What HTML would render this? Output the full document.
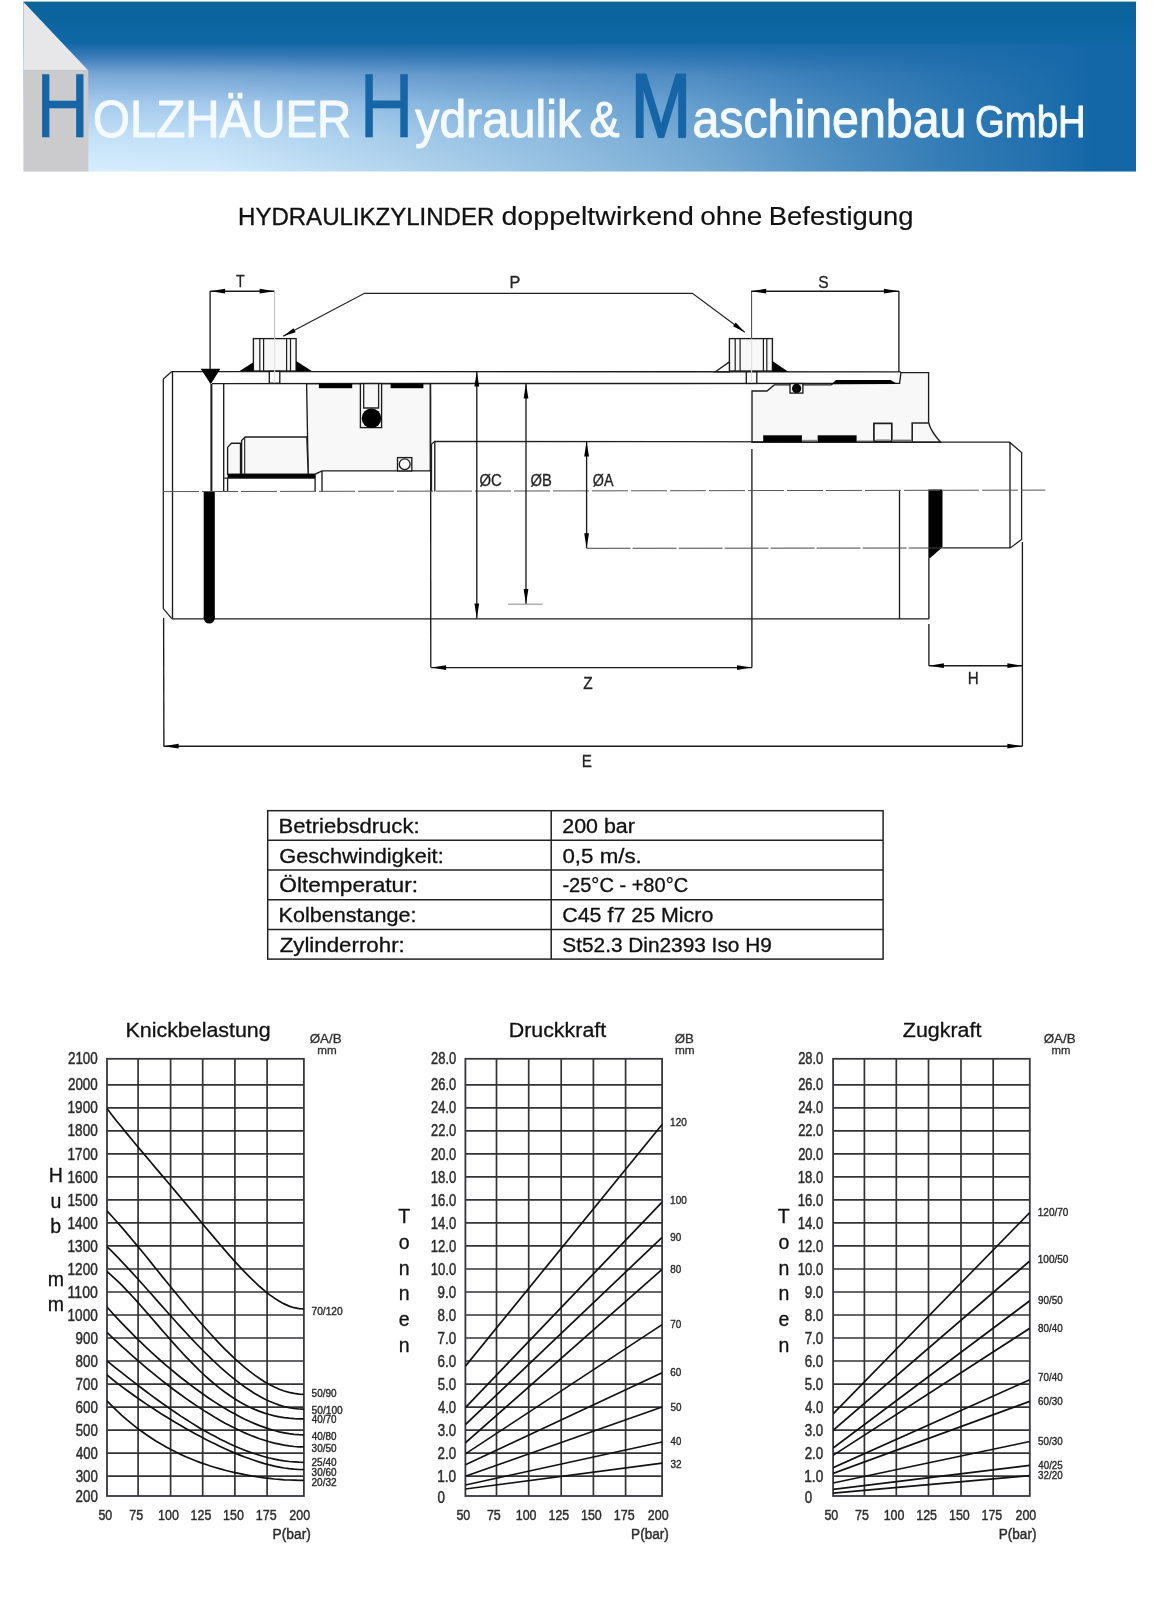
<!DOCTYPE html>
<html><head><meta charset="utf-8"><title>Hydraulikzylinder</title>
<style>
html,body{margin:0;padding:0;background:#fff;}
body{width:1172px;height:1600px;overflow:hidden;font-family:"Liberation Sans",sans-serif;}
svg{display:block;font-family:"Liberation Sans",sans-serif;}
</style></head><body>
<svg width="1172" height="1600" viewBox="0 0 1172 1600">
<rect width="1172" height="1600" fill="#fff"/>
<g opacity="0.999">
<defs>
<linearGradient id="gv" x1="0" y1="0" x2="0" y2="1">
<stop offset="0" stop-color="#0a639c"/>
<stop offset="0.24" stop-color="#0f67a4"/>
<stop offset="0.32" stop-color="#3a7bb8"/>
<stop offset="0.43" stop-color="#79a7d6"/>
<stop offset="0.60" stop-color="#a6cbed"/>
<stop offset="0.80" stop-color="#c4e1f8"/>
<stop offset="1" stop-color="#d6edfd"/>
</linearGradient>
<linearGradient id="gh" x1="0" y1="0" x2="1" y2="0">
<stop offset="0" stop-color="#1f6dac" stop-opacity="0"/>
<stop offset="0.12" stop-color="#1f6dac" stop-opacity="0.02"/>
<stop offset="0.28" stop-color="#1f6dac" stop-opacity="0.17"/>
<stop offset="0.44" stop-color="#1f6dac" stop-opacity="0.33"/>
<stop offset="0.585" stop-color="#1f6dac" stop-opacity="0.50"/>
<stop offset="0.69" stop-color="#1d6cab" stop-opacity="0.68"/>
<stop offset="0.82" stop-color="#1b6baa" stop-opacity="0.86"/>
<stop offset="0.93" stop-color="#1668a8" stop-opacity="0.96"/>
<stop offset="0.957" stop-color="#1467a7" stop-opacity="1"/>
<stop offset="1" stop-color="#1467a7" stop-opacity="1"/>
</linearGradient>
<filter id="soft" x="-5%" y="-5%" width="110%" height="110%"><feGaussianBlur stdDeviation="0.6"/></filter>
</defs>
<rect x="23.5" y="2" width="1112.5" height="169.5" fill="url(#gv)"/>
<rect x="88" y="44" width="1048" height="127.5" fill="url(#gh)"/>
<rect x="23.5" y="1.5" width="1112.5" height="2" fill="#0a647f" opacity="0.8"/>
<polygon points="23.5,2 88.3,70.4 23.5,70.4" fill="#e7e7e9" stroke="none" stroke-width="1.3" />
<rect x="23.5" y="70.4" width="64.8" height="101.1" fill="#cbcacc"/>
<g filter="url(#soft)" stroke-linejoin="round">
<text transform="translate(36.14,137.2) scale(0.8135,1)" font-size="90" fill="#1465a6" stroke="#1465a6" stroke-width="0.5">H</text>
<text transform="translate(93.07,137.2) scale(0.9300,1)" font-size="51" fill="#f4faff" stroke="#f4faff" stroke-width="1.1">OLZHÄUER</text>
<text transform="translate(359.50,137.2) scale(0.8333,1)" font-size="90" fill="#1465a6" stroke="#1465a6" stroke-width="0.5">H</text>
<text transform="translate(415.36,137.2) scale(0.9246,1)" font-size="52" fill="#f4faff" stroke="#f4faff" stroke-width="1.1">ydraulik</text>
<text transform="translate(589.42,137.2) scale(0.9008,1)" font-size="50" fill="#f4faff" stroke="#f4faff" stroke-width="1.1">&amp;</text>
<text transform="translate(630.80,137.2) scale(0.8060,1)" font-size="90" fill="#1465a6" stroke="#1465a6" stroke-width="2.2">M</text>
<text transform="translate(692.47,137.2) scale(0.9289,1)" font-size="52" fill="#f4faff" stroke="#f4faff" stroke-width="1.1">aschinenbau</text>
<text transform="translate(975.09,137.2) scale(0.8510,1)" font-size="45" fill="#f4faff" stroke="#f4faff" stroke-width="1.0">GmbH</text>
</g>
<text transform="translate(238.08,225.3) scale(0.9769,1)" font-size="24.6" fill="#111" stroke="#111" stroke-width="0.35">HYDRAULIKZYLINDER</text>
<text transform="translate(501.45,225.3) scale(1.1270,1)" font-size="25.4" fill="#111" stroke="#111" stroke-width="0.15">doppeltwirkend</text>
<text transform="translate(700.18,225.3) scale(1.1020,1)" font-size="25.4" fill="#111" stroke="#111" stroke-width="0.15">ohne</text>
<text transform="translate(768.81,225.3) scale(1.0960,1)" font-size="25.0" fill="#111" stroke="#111" stroke-width="0.15">Befestigung</text>
<polygon points="306.6,383.6 430.3,383.6 430.3,470.9 322,470.9 315.1,474.2 308.2,474.2" fill="#f8f8f8" stroke="#1c1c1c" stroke-width="1.35" />
<polygon points="227.6,474.2 227.6,447.4 231.4,443.2 240.5,443.2 240.5,474.2" fill="#f8f8f8" stroke="#1c1c1c" stroke-width="1.35" />
<polygon points="241.6,474.2 241.6,440.6 245.2,437.0 306.8,437.0 308.2,474.2" fill="#f8f8f8" stroke="#1c1c1c" stroke-width="1.35" />
<line x1="244.7" y1="437.0" x2="244.7" y2="474.2" stroke="#1c1c1c" stroke-width="1.1" />
<path d="M752,442.2 L752,391 L767,391 L774.2,384.9 L831,384.9 L833,383.6 L899.6,383.4 L900.9,372.6 L928.6,372.6 L928.6,422.5 Q930.5,431 940.6,442.2 Z" fill="#f8f8f8" stroke="#1c1c1c" stroke-width="1.35" stroke-linejoin="miter"/>
<polyline points="171.8,371.4 163.3,379 163.3,608.6 171.8,618.7" fill="none" stroke="#222" stroke-width="1.3" stroke-linejoin="miter" />
<line x1="172.5" y1="371.4" x2="172.5" y2="618.7" stroke="#1c1c1c" stroke-width="1.35" />
<line x1="171.8" y1="371.6" x2="900.9" y2="371.8" stroke="#1c1c1c" stroke-width="1.35" />
<line x1="171.8" y1="618.8" x2="928.9" y2="618.8" stroke="#1c1c1c" stroke-width="1.35" />
<line x1="212" y1="383.6" x2="899.6" y2="383.4" stroke="#1c1c1c" stroke-width="1.35" />
<polygon points="200.7,368.8 220.4,368.8 210.7,384.3" fill="#000" stroke="none" stroke-width="1.3" />
<line x1="211.4" y1="384" x2="211.4" y2="491.6" stroke="#1c1c1c" stroke-width="2.0" />
<line x1="223.7" y1="383.6" x2="223.7" y2="491.6" stroke="#1c1c1c" stroke-width="1.35" />
<rect x="203.7" y="491.4" width="11.1" height="126.6" fill="#000"/>
<circle cx="209.25" cy="618" r="5.55" fill="#000"/>
<rect x="227.6" y="474.2" width="87.5" height="3.9" fill="#000"/>
<line x1="224.2" y1="478.1" x2="315.1" y2="478.1" stroke="#1c1c1c" stroke-width="1.35" />
<line x1="227.6" y1="478.1" x2="227.6" y2="491.6" stroke="#1c1c1c" stroke-width="1.35" />
<line x1="315.1" y1="474.2" x2="315.1" y2="491.6" stroke="#1c1c1c" stroke-width="1.35" />
<line x1="322" y1="470.9" x2="322" y2="491.6" stroke="#1c1c1c" stroke-width="1.35" />
<rect x="318.9" y="383.6" width="33.3" height="4.6" fill="#000"/>
<rect x="390.6" y="383.6" width="32.8" height="4.6" fill="#000"/>
<rect x="360.4" y="383.6" width="21.2" height="44.0" fill="#f8f8f8" stroke="#1c1c1c" stroke-width="1.35" />
<polyline points="363.7,383.6 363.7,408 378.6,408 378.6,383.6" fill="none" stroke="#222" stroke-width="1.3" stroke-linejoin="miter" />
<circle cx="371.5" cy="418.2" r="9.8" fill="#000"/>
<rect x="397.5" y="457.6" width="14.3" height="13.3" fill="#f8f8f8" stroke="#1c1c1c" stroke-width="1.35" />
<circle cx="404.7" cy="464.2" r="5.4" fill="#fff" stroke="#1c1c1c" stroke-width="1.35"/>
<polyline points="431.5,491.5 431.5,444.2 434.6,441.3 1009.6,442.2 1021.6,452.5 1021.6,539.5 1010.3,547.9 942.2,547.9" fill="none" stroke="#222" stroke-width="1.3" stroke-linejoin="miter" />
<line x1="434.8" y1="441.3" x2="434.8" y2="491.5" stroke="#1c1c1c" stroke-width="1.35" />
<line x1="1010" y1="442.2" x2="1010" y2="547.9" stroke="#1c1c1c" stroke-width="1.35" />
<line x1="430.6" y1="383.6" x2="430.8" y2="667.6" stroke="#1c1c1c" stroke-width="1.35" />
<rect x="253.4" y="338.6" width="42.7" height="32.4" fill="#f8f8f8" stroke="#1c1c1c" stroke-width="1.35" />
<line x1="259.8" y1="338.6" x2="259.8" y2="371.0" stroke="#1c1c1c" stroke-width="1.2" />
<line x1="263.6" y1="338.6" x2="263.6" y2="371.0" stroke="#1c1c1c" stroke-width="1.2" />
<line x1="286.6" y1="338.6" x2="286.6" y2="371.0" stroke="#1c1c1c" stroke-width="1.2" />
<line x1="290.5" y1="338.6" x2="290.5" y2="371.0" stroke="#1c1c1c" stroke-width="1.2" />
<polygon points="239.6,371 253.4,362.2 253.4,371" fill="#000" stroke="none" stroke-width="1.3" />
<polygon points="296.1,361 311.8,371 296.1,371" fill="#000" stroke="none" stroke-width="1.3" />
<rect x="269.3" y="371.4" width="10.5" height="11.8" fill="#fff" stroke="#1c1c1c" stroke-width="1.35" />
<rect x="729.4" y="338.6" width="43.0" height="32.4" fill="#f8f8f8" stroke="#1c1c1c" stroke-width="1.35" />
<line x1="735.2" y1="338.6" x2="735.2" y2="371.0" stroke="#1c1c1c" stroke-width="1.2" />
<line x1="740.1" y1="338.6" x2="740.1" y2="371.0" stroke="#1c1c1c" stroke-width="1.2" />
<line x1="763.4" y1="338.6" x2="763.4" y2="371.0" stroke="#1c1c1c" stroke-width="1.2" />
<line x1="766.8" y1="338.6" x2="766.8" y2="371.0" stroke="#1c1c1c" stroke-width="1.2" />
<polygon points="715.4,371.7 729.4,361.9 729.4,371.7" fill="#fff" stroke="#1c1c1c" stroke-width="1.35" />
<polygon points="772.4,361.1 788.3,371.7 772.4,371.7" fill="#000" stroke="none" stroke-width="1.3" />
<rect x="746.3" y="371.9" width="10.5" height="11.5" fill="#fff" stroke="#1c1c1c" stroke-width="1.35" />
<rect x="790" y="383.6" width="12.9" height="9.5" fill="#f8f8f8" stroke="#1c1c1c" stroke-width="1.35" />
<circle cx="796.6" cy="388.4" r="4.6" fill="#000"/>
<polygon points="831.8,383.9 836,379.9 890.7,379.9 897.1,383.9" fill="#000" stroke="none" stroke-width="1.3" />
<rect x="873.9" y="423.4" width="17.9" height="17.8" fill="#f8f8f8" stroke="#1c1c1c" stroke-width="1.7" />
<line x1="876" y1="440" x2="890" y2="440" stroke="#999" stroke-width="1.4" />
<polyline points="928.6,423 912.2,423 912.2,442.2" fill="none" stroke="#222" stroke-width="1.6" stroke-linejoin="miter" />
<rect x="763.2" y="435.3" width="38.7" height="6.6" fill="#000"/>
<rect x="817.7" y="435.3" width="38.9" height="6.6" fill="#000"/>
<line x1="801.9" y1="440.6" x2="817.7" y2="440.6" stroke="#888" stroke-width="1.6" />
<line x1="856.6" y1="441.2" x2="873.9" y2="441.2" stroke="#555" stroke-width="1.2" />
<line x1="891.8" y1="440.4" x2="912.2" y2="440.4" stroke="#777" stroke-width="1.6" />
<line x1="899.5" y1="490.2" x2="899.5" y2="618.9" stroke="#1c1c1c" stroke-width="1.35" />
<line x1="928.9" y1="559" x2="928.9" y2="619" stroke="#1c1c1c" stroke-width="1.35" />
<line x1="928.9" y1="624" x2="928.9" y2="665.7" stroke="#1c1c1c" stroke-width="1.35" />
<polygon points="928.4,489.6 942.5,489.6 942.5,547.2 928.4,559.4" fill="#000" stroke="none" stroke-width="1.3" />
<line x1="1022.4" y1="542" x2="1022.4" y2="746.3" stroke="#1c1c1c" stroke-width="1.35" />
<line x1="751.6" y1="291" x2="751.6" y2="338.6" stroke="#444" stroke-width="1.0" />
<line x1="751.6" y1="338.6" x2="751.6" y2="383" stroke="#ddd" stroke-width="1.0" />
<line x1="751.9" y1="449" x2="751.9" y2="667.6" stroke="#1c1c1c" stroke-width="1.35" />
<line x1="163" y1="491.6" x2="1045.5" y2="490.1" stroke="#555" stroke-width="1.0" stroke-dasharray="36 3"/>
<line x1="586.6" y1="548.3" x2="942" y2="548.0" stroke="#444" stroke-width="1.0" stroke-dasharray="44 2"/>
<line x1="210.1" y1="291.2" x2="274.6" y2="291.2" stroke="#1c1c1c" stroke-width="1.35" />
<polygon points="210.1,291.2 225.1,288.8 225.1,293.6" fill="#000" stroke="none" stroke-width="1.3" />
<polygon points="274.6,291.2 259.6,293.6 259.6,288.8" fill="#000" stroke="none" stroke-width="1.3" />
<line x1="210.1" y1="291" x2="210.1" y2="369" stroke="#1c1c1c" stroke-width="1.35" />
<line x1="274.6" y1="291" x2="274.6" y2="338" stroke="#bbb" stroke-width="1.0" />
<line x1="274.6" y1="338" x2="274.6" y2="383" stroke="#ddd" stroke-width="1.0" />
<polyline points="283.1,336.3 364.5,293.3 692.4,293.3 744.8,332.2" fill="none" stroke="#222" stroke-width="1.3" stroke-linejoin="miter" />
<polygon points="283.1,336.3 293.52,328.19 295.67,332.26" fill="#000" stroke="none" stroke-width="1.3" />
<polygon points="744.8,332.2 732.99,326.3 735.73,322.6" fill="#000" stroke="none" stroke-width="1.3" />
<line x1="751.2" y1="291.2" x2="898.9" y2="291.2" stroke="#1c1c1c" stroke-width="1.35" />
<polygon points="751.2,291.2 766.2,288.8 766.2,293.6" fill="#000" stroke="none" stroke-width="1.3" />
<polygon points="898.9,291.2 883.9,293.6 883.9,288.8" fill="#000" stroke="none" stroke-width="1.3" />
<line x1="898.9" y1="291" x2="898.9" y2="372" stroke="#1c1c1c" stroke-width="1.35" />
<line x1="476.8" y1="371.6" x2="476.8" y2="618.6" stroke="#1c1c1c" stroke-width="1.35" />
<polygon points="476.8,371.6 479.2,386.6 474.4,386.6" fill="#000" stroke="none" stroke-width="1.3" />
<polygon points="476.8,618.6 474.4,603.6 479.2,603.6" fill="#000" stroke="none" stroke-width="1.3" />
<line x1="526" y1="383.6" x2="526" y2="604" stroke="#1c1c1c" stroke-width="1.35" />
<polygon points="526,383.6 528.4,398.6 523.6,398.6" fill="#000" stroke="none" stroke-width="1.3" />
<polygon points="526,604 523.6,589.0 528.4,589.0" fill="#000" stroke="none" stroke-width="1.3" />
<line x1="508" y1="604.2" x2="542.6" y2="604.2" stroke="#888" stroke-width="1.0" />
<line x1="586.6" y1="441.4" x2="586.6" y2="548.2" stroke="#1c1c1c" stroke-width="1.35" />
<polygon points="586.6,441.4 589.0,456.4 584.2,456.4" fill="#000" stroke="none" stroke-width="1.3" />
<polygon points="586.6,548.2 584.2,533.2 589.0,533.2" fill="#000" stroke="none" stroke-width="1.3" />
<line x1="431.1" y1="667.6" x2="752" y2="667.6" stroke="#1c1c1c" stroke-width="1.35" />
<polygon points="431.1,667.6 446.1,665.2 446.1,670.0" fill="#000" stroke="none" stroke-width="1.3" />
<polygon points="752,667.6 737.0,670.0 737.0,665.2" fill="#000" stroke="none" stroke-width="1.3" />
<line x1="928.9" y1="665.7" x2="1022.4" y2="665.7" stroke="#1c1c1c" stroke-width="1.35" />
<polygon points="928.9,665.7 943.9,663.3 943.9,668.1" fill="#000" stroke="none" stroke-width="1.3" />
<polygon points="1022.4,665.7 1007.4,668.1 1007.4,663.3" fill="#000" stroke="none" stroke-width="1.3" />
<line x1="163.6" y1="746.2" x2="1022.4" y2="746.2" stroke="#1c1c1c" stroke-width="1.35" />
<polygon points="163.6,746.2 178.6,743.8 178.6,748.6" fill="#000" stroke="none" stroke-width="1.3" />
<polygon points="1022.4,746.2 1007.4,748.6 1007.4,743.8" fill="#000" stroke="none" stroke-width="1.3" />
<line x1="163.6" y1="618" x2="163.9" y2="746.3" stroke="#1c1c1c" stroke-width="1.35" />
<text transform="translate(236.02,287.4) scale(0.8409,1)" font-size="16.9" fill="#222" stroke="#222" stroke-width="0.3">T</text>
<text transform="translate(509.60,287.8) scale(0.9622,1)" font-size="16.9" fill="#222" stroke="#222" stroke-width="0.3">P</text>
<text transform="translate(818.30,287.8) scale(0.9159,1)" font-size="16.9" fill="#222" stroke="#222" stroke-width="0.3">S</text>
<text transform="translate(479.38,485.8) scale(0.9082,1)" font-size="16.4" fill="#222" stroke="#222" stroke-width="0.3">ØC</text>
<text transform="translate(530.59,485.8) scale(0.8967,1)" font-size="16.4" fill="#222" stroke="#222" stroke-width="0.3">ØB</text>
<text transform="translate(592.80,485.8) scale(0.8736,1)" font-size="16.4" fill="#222" stroke="#222" stroke-width="0.3">ØA</text>
<text transform="translate(583.24,688.7) scale(0.9145,1)" font-size="16.9" fill="#222" stroke="#222" stroke-width="0.3">Z</text>
<text transform="translate(967.79,683.7) scale(0.8981,1)" font-size="16.9" fill="#222" stroke="#222" stroke-width="0.3">H</text>
<text transform="translate(581.78,767.4) scale(0.9011,1)" font-size="16.9" fill="#222" stroke="#222" stroke-width="0.3">E</text>
<rect x="267.7" y="810.7" width="615.4" height="148.4" fill="none" stroke="#222" stroke-width="1.5" />
<line x1="267.7" y1="840.3" x2="883.1" y2="840.3" stroke="#222" stroke-width="1.5" />
<line x1="267.7" y1="870.1" x2="883.1" y2="870.1" stroke="#222" stroke-width="1.5" />
<line x1="267.7" y1="899.7" x2="883.1" y2="899.7" stroke="#222" stroke-width="1.5" />
<line x1="267.7" y1="929.5" x2="883.1" y2="929.5" stroke="#222" stroke-width="1.5" />
<line x1="551.2" y1="810.7" x2="551.2" y2="959.1" stroke="#222" stroke-width="1.5" />
<text transform="translate(278.53,832.9000000000001) scale(1.1387,1)" font-size="19.4" fill="#111" stroke="#111" stroke-width="0.3">Betriebsdruck:</text>
<text transform="translate(279.21,862.5) scale(1.1220,1)" font-size="19.4" fill="#111" stroke="#111" stroke-width="0.3">Geschwindigkeit:</text>
<text transform="translate(279.28,892.3000000000001) scale(1.1707,1)" font-size="19.4" fill="#111" stroke="#111" stroke-width="0.3">Öltemperatur:</text>
<text transform="translate(278.57,921.9000000000001) scale(1.1130,1)" font-size="19.4" fill="#111" stroke="#111" stroke-width="0.3">Kolbenstange:</text>
<text transform="translate(279.63,951.7) scale(1.1502,1)" font-size="19.4" fill="#111" stroke="#111" stroke-width="0.3">Zylinderrohr:</text>
<text transform="translate(562.23,832.9000000000001) scale(1.1053,1)" font-size="19.4" fill="#111" stroke="#111" stroke-width="0.3">200 bar</text>
<text transform="translate(562.41,862.5) scale(1.1513,1)" font-size="19.4" fill="#111" stroke="#111" stroke-width="0.3">0,5 m/s.</text>
<text transform="translate(562.40,892.3000000000001) scale(1.0334,1)" font-size="19.4" fill="#111" stroke="#111" stroke-width="0.3">-25°C - +80°C</text>
<text transform="translate(562.23,921.9000000000001) scale(1.1041,1)" font-size="19.4" fill="#111" stroke="#111" stroke-width="0.3">C45 f7 25 Micro</text>
<text transform="translate(562.36,951.7) scale(1.0738,1)" font-size="19.4" fill="#111" stroke="#111" stroke-width="0.3">St52.3 Din2393 Iso H9</text>
<line x1="107.0" y1="1084.8" x2="303.9" y2="1084.8" stroke="#333336" stroke-width="1.7" />
<line x1="107.0" y1="1107.8" x2="303.9" y2="1107.8" stroke="#333336" stroke-width="1.7" />
<line x1="107.0" y1="1130.8" x2="303.9" y2="1130.8" stroke="#333336" stroke-width="1.7" />
<line x1="107.0" y1="1153.9" x2="303.9" y2="1153.9" stroke="#333336" stroke-width="1.7" />
<line x1="107.0" y1="1176.9" x2="303.9" y2="1176.9" stroke="#333336" stroke-width="1.7" />
<line x1="107.0" y1="1199.9" x2="303.9" y2="1199.9" stroke="#333336" stroke-width="1.7" />
<line x1="107.0" y1="1222.9" x2="303.9" y2="1222.9" stroke="#333336" stroke-width="1.7" />
<line x1="107.0" y1="1245.9" x2="303.9" y2="1245.9" stroke="#333336" stroke-width="1.7" />
<line x1="107.0" y1="1269.0" x2="303.9" y2="1269.0" stroke="#333336" stroke-width="1.7" />
<line x1="107.0" y1="1292.0" x2="303.9" y2="1292.0" stroke="#333336" stroke-width="1.7" />
<line x1="107.0" y1="1315.0" x2="303.9" y2="1315.0" stroke="#333336" stroke-width="1.7" />
<line x1="107.0" y1="1338.0" x2="303.9" y2="1338.0" stroke="#333336" stroke-width="1.7" />
<line x1="107.0" y1="1361.0" x2="303.9" y2="1361.0" stroke="#333336" stroke-width="1.7" />
<line x1="107.0" y1="1384.1" x2="303.9" y2="1384.1" stroke="#333336" stroke-width="1.7" />
<line x1="107.0" y1="1407.1" x2="303.9" y2="1407.1" stroke="#333336" stroke-width="1.7" />
<line x1="107.0" y1="1430.1" x2="303.9" y2="1430.1" stroke="#333336" stroke-width="1.7" />
<line x1="107.0" y1="1453.1" x2="303.9" y2="1453.1" stroke="#333336" stroke-width="1.7" />
<line x1="107.0" y1="1476.1" x2="303.9" y2="1476.1" stroke="#333336" stroke-width="1.7" />
<line x1="138.1" y1="1058.8" x2="138.1" y2="1496.0" stroke="#333336" stroke-width="1.7" />
<line x1="170.6" y1="1058.8" x2="170.6" y2="1496.0" stroke="#333336" stroke-width="1.7" />
<line x1="202.7" y1="1058.8" x2="202.7" y2="1496.0" stroke="#333336" stroke-width="1.7" />
<line x1="234.9" y1="1058.8" x2="234.9" y2="1496.0" stroke="#333336" stroke-width="1.7" />
<line x1="267.1" y1="1058.8" x2="267.1" y2="1496.0" stroke="#333336" stroke-width="1.7" />
<rect x="107.0" y="1058.8" width="196.9" height="437.2" fill="none" stroke="#37373f" stroke-width="1.8" />
<clipPath id="cp107"><rect x="107.0" y="1058.8" width="196.89999999999998" height="437.20000000000005"/></clipPath>
<g clip-path="url(#cp107)">
<path d="M107.0,1108.4 L111.9,1114.9 L116.8,1121.2 L121.8,1127.3 L126.7,1133.4 L131.6,1139.3 L136.5,1145.3 L141.5,1151.1 L146.4,1156.9 L151.3,1162.7 L156.2,1168.6 L161.1,1174.4 L166.1,1180.2 L171.0,1186.0 L175.9,1191.9 L180.8,1197.7 L185.8,1203.6 L190.7,1209.5 L195.6,1215.4 L200.5,1221.3 L205.4,1227.2 L210.4,1233.1 L215.3,1238.9 L220.2,1244.7 L225.1,1250.4 L230.1,1256.1 L235.0,1261.6 L239.9,1266.9 L244.8,1272.2 L249.8,1277.2 L254.7,1281.9 L259.6,1286.5 L264.5,1290.7 L269.4,1294.6 L274.4,1298.1 L279.3,1301.2 L284.2,1303.9 L289.1,1306.1 L294.1,1307.7 L299.0,1308.7 L303.9,1309.0" fill="none" stroke="#111" stroke-width="1.7"/>
<path d="M107.0,1210.9 L111.9,1216.3 L116.8,1221.8 L121.8,1227.4 L126.7,1233.1 L131.6,1239.0 L136.5,1244.9 L141.5,1250.8 L146.4,1256.8 L151.3,1262.9 L156.2,1269.0 L161.1,1275.1 L166.1,1281.2 L171.0,1287.2 L175.9,1293.3 L180.8,1299.3 L185.8,1305.3 L190.7,1311.2 L195.6,1317.0 L200.5,1322.7 L205.4,1328.3 L210.4,1333.8 L215.3,1339.1 L220.2,1344.3 L225.1,1349.3 L230.1,1354.2 L235.0,1358.8 L239.9,1363.2 L244.8,1367.4 L249.8,1371.4 L254.7,1375.1 L259.6,1378.5 L264.5,1381.7 L269.4,1384.5 L274.4,1387.0 L279.3,1389.2 L284.2,1391.0 L289.1,1392.4 L294.1,1393.4 L299.0,1394.1 L303.9,1394.3" fill="none" stroke="#111" stroke-width="1.7"/>
<path d="M107.0,1246.6 L111.9,1251.4 L116.8,1256.4 L121.8,1261.6 L126.7,1266.8 L131.6,1272.1 L136.5,1277.5 L141.5,1283.0 L146.4,1288.5 L151.3,1294.0 L156.2,1299.6 L161.1,1305.1 L166.1,1310.7 L171.0,1316.2 L175.9,1321.7 L180.8,1327.1 L185.8,1332.5 L190.7,1337.8 L195.6,1343.0 L200.5,1348.0 L205.4,1353.0 L210.4,1357.8 L215.3,1362.5 L220.2,1367.1 L225.1,1371.4 L230.1,1375.6 L235.0,1379.6 L239.9,1383.4 L244.8,1387.0 L249.8,1390.3 L254.7,1393.4 L259.6,1396.3 L264.5,1398.9 L269.4,1401.2 L274.4,1403.3 L279.3,1405.1 L284.2,1406.5 L289.1,1407.7 L294.1,1408.5 L299.0,1409.0 L303.9,1409.2" fill="none" stroke="#111" stroke-width="1.7"/>
<path d="M107.0,1271.5 L111.9,1275.8 L116.8,1280.3 L121.8,1285.2 L126.7,1290.3 L131.6,1295.5 L136.5,1300.9 L141.5,1306.5 L146.4,1312.1 L151.3,1317.7 L156.2,1323.4 L161.1,1329.1 L166.1,1334.8 L171.0,1340.4 L175.9,1345.9 L180.8,1351.3 L185.8,1356.6 L190.7,1361.7 L195.6,1366.7 L200.5,1371.5 L205.4,1376.1 L210.4,1380.5 L215.3,1384.7 L220.2,1388.6 L225.1,1392.3 L230.1,1395.8 L235.0,1399.0 L239.9,1402.0 L244.8,1404.7 L249.8,1407.2 L254.7,1409.4 L259.6,1411.4 L264.5,1413.1 L269.4,1414.5 L274.4,1415.8 L279.3,1416.8 L284.2,1417.6 L289.1,1418.2 L294.1,1418.6 L299.0,1418.8 L303.9,1418.9" fill="none" stroke="#111" stroke-width="1.7"/>
<path d="M107.0,1307.0 L111.9,1312.5 L116.8,1317.9 L121.8,1323.1 L126.7,1328.2 L131.6,1333.2 L136.5,1338.1 L141.5,1342.9 L146.4,1347.6 L151.3,1352.2 L156.2,1356.6 L161.1,1361.0 L166.1,1365.3 L171.0,1369.4 L175.9,1373.5 L180.8,1377.5 L185.8,1381.3 L190.7,1385.1 L195.6,1388.8 L200.5,1392.3 L205.4,1395.8 L210.4,1399.2 L215.3,1402.4 L220.2,1405.5 L225.1,1408.5 L230.1,1411.4 L235.0,1414.1 L239.9,1416.7 L244.8,1419.2 L249.8,1421.5 L254.7,1423.6 L259.6,1425.6 L264.5,1427.4 L269.4,1429.1 L274.4,1430.5 L279.3,1431.8 L284.2,1432.8 L289.1,1433.7 L294.1,1434.3 L299.0,1434.7 L303.9,1434.8" fill="none" stroke="#111" stroke-width="1.7"/>
<path d="M107.0,1332.4 L111.9,1337.1 L116.8,1341.7 L121.8,1346.3 L126.7,1350.7 L131.6,1355.1 L136.5,1359.4 L141.5,1363.7 L146.4,1367.8 L151.3,1371.9 L156.2,1375.9 L161.1,1379.9 L166.1,1383.7 L171.0,1387.5 L175.9,1391.2 L180.8,1394.8 L185.8,1398.4 L190.7,1401.8 L195.6,1405.1 L200.5,1408.4 L205.4,1411.6 L210.4,1414.6 L215.3,1417.6 L220.2,1420.4 L225.1,1423.2 L230.1,1425.8 L235.0,1428.3 L239.9,1430.6 L244.8,1432.9 L249.8,1435.0 L254.7,1436.9 L259.6,1438.7 L264.5,1440.3 L269.4,1441.8 L274.4,1443.1 L279.3,1444.2 L284.2,1445.2 L289.1,1445.9 L294.1,1446.5 L299.0,1446.8 L303.9,1446.9" fill="none" stroke="#111" stroke-width="1.7"/>
<path d="M107.0,1360.9 L111.9,1364.9 L116.8,1368.8 L121.8,1372.7 L126.7,1376.6 L131.6,1380.4 L136.5,1384.2 L141.5,1388.0 L146.4,1391.7 L151.3,1395.4 L156.2,1399.0 L161.1,1402.5 L166.1,1406.0 L171.0,1409.4 L175.9,1412.8 L180.8,1416.1 L185.8,1419.3 L190.7,1422.4 L195.6,1425.4 L200.5,1428.4 L205.4,1431.2 L210.4,1434.0 L215.3,1436.6 L220.2,1439.2 L225.1,1441.6 L230.1,1444.0 L235.0,1446.2 L239.9,1448.3 L244.8,1450.2 L249.8,1452.1 L254.7,1453.8 L259.6,1455.3 L264.5,1456.7 L269.4,1458.0 L274.4,1459.1 L279.3,1460.1 L284.2,1460.9 L289.1,1461.5 L294.1,1461.9 L299.0,1462.2 L303.9,1462.3" fill="none" stroke="#111" stroke-width="1.7"/>
<path d="M107.0,1375.0 L111.9,1379.0 L116.8,1382.8 L121.8,1386.6 L126.7,1390.2 L131.6,1393.8 L136.5,1397.3 L141.5,1400.7 L146.4,1404.1 L151.3,1407.3 L156.2,1410.5 L161.1,1413.7 L166.1,1416.8 L171.0,1419.8 L175.9,1422.7 L180.8,1425.6 L185.8,1428.5 L190.7,1431.2 L195.6,1433.9 L200.5,1436.6 L205.4,1439.2 L210.4,1441.7 L215.3,1444.1 L220.2,1446.5 L225.1,1448.8 L230.1,1451.0 L235.0,1453.1 L239.9,1455.1 L244.8,1457.0 L249.8,1458.8 L254.7,1460.5 L259.6,1462.1 L264.5,1463.6 L269.4,1464.9 L274.4,1466.1 L279.3,1467.1 L284.2,1468.0 L289.1,1468.7 L294.1,1469.2 L299.0,1469.5 L303.9,1469.6" fill="none" stroke="#111" stroke-width="1.7"/>
<path d="M107.0,1400.9 L111.9,1405.9 L116.8,1410.7 L121.8,1415.3 L126.7,1419.6 L131.6,1423.7 L136.5,1427.6 L141.5,1431.3 L146.4,1434.7 L151.3,1438.0 L156.2,1441.2 L161.1,1444.1 L166.1,1446.9 L171.0,1449.6 L175.9,1452.1 L180.8,1454.4 L185.8,1456.7 L190.7,1458.7 L195.6,1460.7 L200.5,1462.6 L205.4,1464.3 L210.4,1466.0 L215.3,1467.5 L220.2,1468.9 L225.1,1470.3 L230.1,1471.5 L235.0,1472.7 L239.9,1473.7 L244.8,1474.7 L249.8,1475.6 L254.7,1476.4 L259.6,1477.2 L264.5,1477.9 L269.4,1478.4 L274.4,1479.0 L279.3,1479.4 L284.2,1479.8 L289.1,1480.0 L294.1,1480.2 L299.0,1480.4 L303.9,1480.4" fill="none" stroke="#111" stroke-width="1.7"/>
</g>
<text transform="translate(125.49,1037) scale(1.0396,1)" font-size="20.6" fill="#111" stroke="#111" stroke-width="0.3">Knickbelastung</text>
<text transform="translate(67.93,1064.3999999999999) scale(0.8597,1)" font-size="15.6" fill="#2c2c2c" stroke="#2c2c2c" stroke-width="0.45">2100</text>
<text transform="translate(67.93,1090.3999999999999) scale(0.8597,1)" font-size="15.6" fill="#2c2c2c" stroke="#2c2c2c" stroke-width="0.45">2000</text>
<text transform="translate(67.58,1113.3999999999999) scale(0.8699,1)" font-size="15.6" fill="#2c2c2c" stroke="#2c2c2c" stroke-width="0.45">1900</text>
<text transform="translate(67.58,1136.3999999999999) scale(0.8699,1)" font-size="15.6" fill="#2c2c2c" stroke="#2c2c2c" stroke-width="0.45">1800</text>
<text transform="translate(67.58,1159.5) scale(0.8699,1)" font-size="15.6" fill="#2c2c2c" stroke="#2c2c2c" stroke-width="0.45">1700</text>
<text transform="translate(67.58,1182.5) scale(0.8699,1)" font-size="15.6" fill="#2c2c2c" stroke="#2c2c2c" stroke-width="0.45">1600</text>
<text transform="translate(67.58,1205.5) scale(0.8699,1)" font-size="15.6" fill="#2c2c2c" stroke="#2c2c2c" stroke-width="0.45">1500</text>
<text transform="translate(67.58,1228.5) scale(0.8699,1)" font-size="15.6" fill="#2c2c2c" stroke="#2c2c2c" stroke-width="0.45">1400</text>
<text transform="translate(67.58,1251.5) scale(0.8699,1)" font-size="15.6" fill="#2c2c2c" stroke="#2c2c2c" stroke-width="0.45">1300</text>
<text transform="translate(67.58,1274.6) scale(0.8699,1)" font-size="15.6" fill="#2c2c2c" stroke="#2c2c2c" stroke-width="0.45">1200</text>
<text transform="translate(67.54,1297.6) scale(0.9018,1)" font-size="15.6" fill="#2c2c2c" stroke="#2c2c2c" stroke-width="0.45">1100</text>
<text transform="translate(67.58,1320.6) scale(0.8699,1)" font-size="15.6" fill="#2c2c2c" stroke="#2c2c2c" stroke-width="0.45">1000</text>
<text transform="translate(75.60,1343.6) scale(0.8534,1)" font-size="15.6" fill="#2c2c2c" stroke="#2c2c2c" stroke-width="0.45">900</text>
<text transform="translate(75.60,1366.6) scale(0.8534,1)" font-size="15.6" fill="#2c2c2c" stroke="#2c2c2c" stroke-width="0.45">800</text>
<text transform="translate(75.53,1389.6999999999998) scale(0.8561,1)" font-size="15.6" fill="#2c2c2c" stroke="#2c2c2c" stroke-width="0.45">700</text>
<text transform="translate(75.53,1412.6999999999998) scale(0.8561,1)" font-size="15.6" fill="#2c2c2c" stroke="#2c2c2c" stroke-width="0.45">600</text>
<text transform="translate(75.67,1435.6999999999998) scale(0.8507,1)" font-size="15.6" fill="#2c2c2c" stroke="#2c2c2c" stroke-width="0.45">500</text>
<text transform="translate(75.94,1458.6999999999998) scale(0.8401,1)" font-size="15.6" fill="#2c2c2c" stroke="#2c2c2c" stroke-width="0.45">400</text>
<text transform="translate(75.67,1481.6999999999998) scale(0.8507,1)" font-size="15.6" fill="#2c2c2c" stroke="#2c2c2c" stroke-width="0.45">300</text>
<text transform="translate(75.53,1501.6) scale(0.8561,1)" font-size="15.6" fill="#2c2c2c" stroke="#2c2c2c" stroke-width="0.45">200</text>
<text transform="translate(98.45,1520) scale(0.8200,1)" font-size="15.2" fill="#2c2c2c" stroke="#2c2c2c" stroke-width="0.45">50</text>
<text transform="translate(129.22,1520) scale(0.8200,1)" font-size="15.2" fill="#2c2c2c" stroke="#2c2c2c" stroke-width="0.45">75</text>
<text transform="translate(158.07,1520) scale(0.8200,1)" font-size="15.2" fill="#2c2c2c" stroke="#2c2c2c" stroke-width="0.45">100</text>
<text transform="translate(190.61,1520) scale(0.8200,1)" font-size="15.2" fill="#2c2c2c" stroke="#2c2c2c" stroke-width="0.45">125</text>
<text transform="translate(223.07,1520) scale(0.8200,1)" font-size="15.2" fill="#2c2c2c" stroke="#2c2c2c" stroke-width="0.45">150</text>
<text transform="translate(255.81,1520) scale(0.8200,1)" font-size="15.2" fill="#2c2c2c" stroke="#2c2c2c" stroke-width="0.45">175</text>
<text transform="translate(289.33,1520) scale(0.8200,1)" font-size="15.2" fill="#2c2c2c" stroke="#2c2c2c" stroke-width="0.45">200</text>
<text transform="translate(272.60,1539.4) scale(0.9063,1)" font-size="15.2" fill="#2c2c2c" stroke="#2c2c2c" stroke-width="0.45">P(bar)</text>
<text transform="translate(309.73,1043.4) scale(1.0953,1)" font-size="12.2" fill="#2c2c2c" stroke="#333" stroke-width="0.3">ØA/B</text>
<text transform="translate(317.24,1053.5) scale(1.0164,1)" font-size="11.5" fill="#2c2c2c" stroke="#333" stroke-width="0.3">mm</text>
<text transform="translate(311.49,1314.6000000000001) scale(0.8964,1)" font-size="11.4" fill="#2a2a2a" stroke="#2a2a2a" stroke-width="0.4">70/120</text>
<text transform="translate(311.60,1397.3) scale(0.8754,1)" font-size="11.4" fill="#2a2a2a" stroke="#2a2a2a" stroke-width="0.4">50/90</text>
<text transform="translate(311.59,1414.1000000000001) scale(0.8934,1)" font-size="11.4" fill="#2a2a2a" stroke="#2a2a2a" stroke-width="0.4">50/100</text>
<text transform="translate(311.80,1423.4) scale(0.8682,1)" font-size="11.4" fill="#2a2a2a" stroke="#2a2a2a" stroke-width="0.4">40/70</text>
<text transform="translate(311.80,1440.2) scale(0.8682,1)" font-size="11.4" fill="#2a2a2a" stroke="#2a2a2a" stroke-width="0.4">40/80</text>
<text transform="translate(311.60,1451.6000000000001) scale(0.8754,1)" font-size="11.4" fill="#2a2a2a" stroke="#2a2a2a" stroke-width="0.4">30/50</text>
<text transform="translate(311.50,1466.3) scale(0.8790,1)" font-size="11.4" fill="#2a2a2a" stroke="#2a2a2a" stroke-width="0.4">25/40</text>
<text transform="translate(311.60,1475.6000000000001) scale(0.8754,1)" font-size="11.4" fill="#2a2a2a" stroke="#2a2a2a" stroke-width="0.4">30/60</text>
<text transform="translate(311.50,1486.4) scale(0.8845,1)" font-size="11.4" fill="#2a2a2a" stroke="#2a2a2a" stroke-width="0.4">20/32</text>
<text transform="translate(48.78,1182.3) scale(1.0000,1)" font-size="19.5" fill="#111" stroke="#111" stroke-width="0.3">H</text>
<text transform="translate(50.39,1208) scale(1.0000,1)" font-size="19.5" fill="#111" stroke="#111" stroke-width="0.3">u</text>
<text transform="translate(50.14,1233.4) scale(1.0000,1)" font-size="19.5" fill="#111" stroke="#111" stroke-width="0.3">b</text>
<text transform="translate(47.66,1285.6) scale(1.0000,1)" font-size="19.5" fill="#111" stroke="#111" stroke-width="0.3">m</text>
<text transform="translate(47.66,1311.4) scale(1.0000,1)" font-size="19.5" fill="#111" stroke="#111" stroke-width="0.3">m</text>
<line x1="465.4" y1="1084.8" x2="662.1" y2="1084.8" stroke="#333336" stroke-width="1.7" />
<line x1="465.4" y1="1107.8" x2="662.1" y2="1107.8" stroke="#333336" stroke-width="1.7" />
<line x1="465.4" y1="1130.8" x2="662.1" y2="1130.8" stroke="#333336" stroke-width="1.7" />
<line x1="465.4" y1="1153.9" x2="662.1" y2="1153.9" stroke="#333336" stroke-width="1.7" />
<line x1="465.4" y1="1176.9" x2="662.1" y2="1176.9" stroke="#333336" stroke-width="1.7" />
<line x1="465.4" y1="1199.9" x2="662.1" y2="1199.9" stroke="#333336" stroke-width="1.7" />
<line x1="465.4" y1="1222.9" x2="662.1" y2="1222.9" stroke="#333336" stroke-width="1.7" />
<line x1="465.4" y1="1245.9" x2="662.1" y2="1245.9" stroke="#333336" stroke-width="1.7" />
<line x1="465.4" y1="1269.0" x2="662.1" y2="1269.0" stroke="#333336" stroke-width="1.7" />
<line x1="465.4" y1="1292.0" x2="662.1" y2="1292.0" stroke="#333336" stroke-width="1.7" />
<line x1="465.4" y1="1315.0" x2="662.1" y2="1315.0" stroke="#333336" stroke-width="1.7" />
<line x1="465.4" y1="1338.0" x2="662.1" y2="1338.0" stroke="#333336" stroke-width="1.7" />
<line x1="465.4" y1="1361.0" x2="662.1" y2="1361.0" stroke="#333336" stroke-width="1.7" />
<line x1="465.4" y1="1384.1" x2="662.1" y2="1384.1" stroke="#333336" stroke-width="1.7" />
<line x1="465.4" y1="1407.1" x2="662.1" y2="1407.1" stroke="#333336" stroke-width="1.7" />
<line x1="465.4" y1="1430.1" x2="662.1" y2="1430.1" stroke="#333336" stroke-width="1.7" />
<line x1="465.4" y1="1453.1" x2="662.1" y2="1453.1" stroke="#333336" stroke-width="1.7" />
<line x1="465.4" y1="1476.1" x2="662.1" y2="1476.1" stroke="#333336" stroke-width="1.7" />
<line x1="496.5" y1="1058.8" x2="496.5" y2="1496.0" stroke="#333336" stroke-width="1.7" />
<line x1="528.7" y1="1058.8" x2="528.7" y2="1496.0" stroke="#333336" stroke-width="1.7" />
<line x1="561.2" y1="1058.8" x2="561.2" y2="1496.0" stroke="#333336" stroke-width="1.7" />
<line x1="593.4" y1="1058.8" x2="593.4" y2="1496.0" stroke="#333336" stroke-width="1.7" />
<line x1="625.6" y1="1058.8" x2="625.6" y2="1496.0" stroke="#333336" stroke-width="1.7" />
<rect x="465.4" y="1058.8" width="196.7" height="437.2" fill="none" stroke="#37373f" stroke-width="1.8" />
<clipPath id="cp465"><rect x="465.4" y="1058.8" width="196.70000000000005" height="437.20000000000005"/></clipPath>
<g clip-path="url(#cp465)">
<path d="M465.4,1366.2 L662.1,1124.5" fill="none" stroke="#111" stroke-width="1.7"/>
<path d="M465.4,1407.6 L662.1,1202.1" fill="none" stroke="#111" stroke-width="1.7"/>
<path d="M465.4,1424.6 L662.1,1237.3" fill="none" stroke="#111" stroke-width="1.7"/>
<path d="M465.4,1442.9 L662.1,1269.3" fill="none" stroke="#111" stroke-width="1.7"/>
<path d="M465.4,1453.9 L662.1,1324.6" fill="none" stroke="#111" stroke-width="1.7"/>
<path d="M465.4,1464.7 L662.1,1372.7" fill="none" stroke="#111" stroke-width="1.7"/>
<path d="M465.4,1476.2 L662.1,1407.0" fill="none" stroke="#111" stroke-width="1.7"/>
<path d="M465.4,1485.0 L662.1,1442.0" fill="none" stroke="#111" stroke-width="1.7"/>
<path d="M465.4,1489.0 L662.1,1463.2" fill="none" stroke="#111" stroke-width="1.7"/>
</g>
<text transform="translate(508.69,1037) scale(1.0393,1)" font-size="20.6" fill="#111" stroke="#111" stroke-width="0.3">Druckkraft</text>
<text transform="translate(431.05,1064.3999999999999) scale(0.8271,1)" font-size="15.6" fill="#2c2c2c" stroke="#2c2c2c" stroke-width="0.45">28.0</text>
<text transform="translate(431.05,1090.3999999999999) scale(0.8271,1)" font-size="15.6" fill="#2c2c2c" stroke="#2c2c2c" stroke-width="0.45">26.0</text>
<text transform="translate(431.05,1113.3999999999999) scale(0.8271,1)" font-size="15.6" fill="#2c2c2c" stroke="#2c2c2c" stroke-width="0.45">24.0</text>
<text transform="translate(431.05,1136.3999999999999) scale(0.8271,1)" font-size="15.6" fill="#2c2c2c" stroke="#2c2c2c" stroke-width="0.45">22.0</text>
<text transform="translate(431.05,1159.5) scale(0.8271,1)" font-size="15.6" fill="#2c2c2c" stroke="#2c2c2c" stroke-width="0.45">20.0</text>
<text transform="translate(430.72,1182.5) scale(0.8384,1)" font-size="15.6" fill="#2c2c2c" stroke="#2c2c2c" stroke-width="0.45">18.0</text>
<text transform="translate(430.72,1205.5) scale(0.8384,1)" font-size="15.6" fill="#2c2c2c" stroke="#2c2c2c" stroke-width="0.45">16.0</text>
<text transform="translate(430.72,1228.5) scale(0.8384,1)" font-size="15.6" fill="#2c2c2c" stroke="#2c2c2c" stroke-width="0.45">14.0</text>
<text transform="translate(430.72,1251.5) scale(0.8384,1)" font-size="15.6" fill="#2c2c2c" stroke="#2c2c2c" stroke-width="0.45">12.0</text>
<text transform="translate(430.72,1274.6) scale(0.8384,1)" font-size="15.6" fill="#2c2c2c" stroke="#2c2c2c" stroke-width="0.45">10.0</text>
<text transform="translate(437.60,1297.6) scale(0.8563,1)" font-size="15.6" fill="#2c2c2c" stroke="#2c2c2c" stroke-width="0.45">9.0</text>
<text transform="translate(437.60,1320.6) scale(0.8563,1)" font-size="15.6" fill="#2c2c2c" stroke="#2c2c2c" stroke-width="0.45">8.0</text>
<text transform="translate(437.53,1343.6) scale(0.8596,1)" font-size="15.6" fill="#2c2c2c" stroke="#2c2c2c" stroke-width="0.45">7.0</text>
<text transform="translate(437.53,1366.6) scale(0.8596,1)" font-size="15.6" fill="#2c2c2c" stroke="#2c2c2c" stroke-width="0.45">6.0</text>
<text transform="translate(437.67,1389.6999999999998) scale(0.8531,1)" font-size="15.6" fill="#2c2c2c" stroke="#2c2c2c" stroke-width="0.45">5.0</text>
<text transform="translate(437.94,1412.6999999999998) scale(0.8403,1)" font-size="15.6" fill="#2c2c2c" stroke="#2c2c2c" stroke-width="0.45">4.0</text>
<text transform="translate(437.67,1435.6999999999998) scale(0.8531,1)" font-size="15.6" fill="#2c2c2c" stroke="#2c2c2c" stroke-width="0.45">3.0</text>
<text transform="translate(437.53,1458.6999999999998) scale(0.8596,1)" font-size="15.6" fill="#2c2c2c" stroke="#2c2c2c" stroke-width="0.45">2.0</text>
<text transform="translate(437.17,1481.6999999999998) scale(0.8764,1)" font-size="15.6" fill="#2c2c2c" stroke="#2c2c2c" stroke-width="0.45">1.0</text>
<text transform="translate(437.57,1502.8) scale(0.8547,1)" font-size="15.6" fill="#2c2c2c" stroke="#2c2c2c" stroke-width="0.45">0</text>
<text transform="translate(456.45,1520) scale(0.8200,1)" font-size="15.2" fill="#2c2c2c" stroke="#2c2c2c" stroke-width="0.45">50</text>
<text transform="translate(486.92,1520) scale(0.8200,1)" font-size="15.2" fill="#2c2c2c" stroke="#2c2c2c" stroke-width="0.45">75</text>
<text transform="translate(515.77,1520) scale(0.8200,1)" font-size="15.2" fill="#2c2c2c" stroke="#2c2c2c" stroke-width="0.45">100</text>
<text transform="translate(548.51,1520) scale(0.8200,1)" font-size="15.2" fill="#2c2c2c" stroke="#2c2c2c" stroke-width="0.45">125</text>
<text transform="translate(580.97,1520) scale(0.8200,1)" font-size="15.2" fill="#2c2c2c" stroke="#2c2c2c" stroke-width="0.45">150</text>
<text transform="translate(613.81,1520) scale(0.8200,1)" font-size="15.2" fill="#2c2c2c" stroke="#2c2c2c" stroke-width="0.45">175</text>
<text transform="translate(647.83,1520) scale(0.8200,1)" font-size="15.2" fill="#2c2c2c" stroke="#2c2c2c" stroke-width="0.45">200</text>
<text transform="translate(631.12,1539.4) scale(0.8913,1)" font-size="15.2" fill="#2c2c2c" stroke="#2c2c2c" stroke-width="0.45">P(bar)</text>
<text transform="translate(674.74,1043.4) scale(1.0849,1)" font-size="12.2" fill="#2c2c2c" stroke="#333" stroke-width="0.3">ØB</text>
<text transform="translate(675.03,1053.5) scale(1.0277,1)" font-size="11.5" fill="#2c2c2c" stroke="#333" stroke-width="0.3">mm</text>
<text transform="translate(670.04,1126.3) scale(0.8857,1)" font-size="11.4" fill="#2a2a2a" stroke="#2a2a2a" stroke-width="0.4">120</text>
<text transform="translate(670.04,1204.3) scale(0.8857,1)" font-size="11.4" fill="#2a2a2a" stroke="#2a2a2a" stroke-width="0.4">100</text>
<text transform="translate(670.35,1240.9) scale(0.8687,1)" font-size="11.4" fill="#2a2a2a" stroke="#2a2a2a" stroke-width="0.4">90</text>
<text transform="translate(670.35,1273.4) scale(0.8687,1)" font-size="11.4" fill="#2a2a2a" stroke="#2a2a2a" stroke-width="0.4">80</text>
<text transform="translate(670.30,1327.7) scale(0.8729,1)" font-size="11.4" fill="#2a2a2a" stroke="#2a2a2a" stroke-width="0.4">70</text>
<text transform="translate(670.30,1375.5) scale(0.8729,1)" font-size="11.4" fill="#2a2a2a" stroke="#2a2a2a" stroke-width="0.4">60</text>
<text transform="translate(670.41,1410.7) scale(0.8645,1)" font-size="11.4" fill="#2a2a2a" stroke="#2a2a2a" stroke-width="0.4">50</text>
<text transform="translate(670.61,1445.2) scale(0.8481,1)" font-size="11.4" fill="#2a2a2a" stroke="#2a2a2a" stroke-width="0.4">40</text>
<text transform="translate(670.40,1467.8) scale(0.8772,1)" font-size="11.4" fill="#2a2a2a" stroke="#2a2a2a" stroke-width="0.4">32</text>
<text transform="translate(398.25,1223) scale(1.0000,1)" font-size="19.5" fill="#111" stroke="#111" stroke-width="0.3">T</text>
<text transform="translate(398.79,1249.2) scale(1.0000,1)" font-size="19.5" fill="#111" stroke="#111" stroke-width="0.3">o</text>
<text transform="translate(398.79,1274.8) scale(1.0000,1)" font-size="19.5" fill="#111" stroke="#111" stroke-width="0.3">n</text>
<text transform="translate(398.79,1300.4) scale(1.0000,1)" font-size="19.5" fill="#111" stroke="#111" stroke-width="0.3">n</text>
<text transform="translate(398.84,1326.1) scale(1.0000,1)" font-size="19.5" fill="#111" stroke="#111" stroke-width="0.3">e</text>
<text transform="translate(398.79,1351.6) scale(1.0000,1)" font-size="19.5" fill="#111" stroke="#111" stroke-width="0.3">n</text>
<line x1="833.1" y1="1084.8" x2="1029.8" y2="1084.8" stroke="#333336" stroke-width="1.7" />
<line x1="833.1" y1="1107.8" x2="1029.8" y2="1107.8" stroke="#333336" stroke-width="1.7" />
<line x1="833.1" y1="1130.8" x2="1029.8" y2="1130.8" stroke="#333336" stroke-width="1.7" />
<line x1="833.1" y1="1153.9" x2="1029.8" y2="1153.9" stroke="#333336" stroke-width="1.7" />
<line x1="833.1" y1="1176.9" x2="1029.8" y2="1176.9" stroke="#333336" stroke-width="1.7" />
<line x1="833.1" y1="1199.9" x2="1029.8" y2="1199.9" stroke="#333336" stroke-width="1.7" />
<line x1="833.1" y1="1222.9" x2="1029.8" y2="1222.9" stroke="#333336" stroke-width="1.7" />
<line x1="833.1" y1="1245.9" x2="1029.8" y2="1245.9" stroke="#333336" stroke-width="1.7" />
<line x1="833.1" y1="1269.0" x2="1029.8" y2="1269.0" stroke="#333336" stroke-width="1.7" />
<line x1="833.1" y1="1292.0" x2="1029.8" y2="1292.0" stroke="#333336" stroke-width="1.7" />
<line x1="833.1" y1="1315.0" x2="1029.8" y2="1315.0" stroke="#333336" stroke-width="1.7" />
<line x1="833.1" y1="1338.0" x2="1029.8" y2="1338.0" stroke="#333336" stroke-width="1.7" />
<line x1="833.1" y1="1361.0" x2="1029.8" y2="1361.0" stroke="#333336" stroke-width="1.7" />
<line x1="833.1" y1="1384.1" x2="1029.8" y2="1384.1" stroke="#333336" stroke-width="1.7" />
<line x1="833.1" y1="1407.1" x2="1029.8" y2="1407.1" stroke="#333336" stroke-width="1.7" />
<line x1="833.1" y1="1430.1" x2="1029.8" y2="1430.1" stroke="#333336" stroke-width="1.7" />
<line x1="833.1" y1="1453.1" x2="1029.8" y2="1453.1" stroke="#333336" stroke-width="1.7" />
<line x1="833.1" y1="1476.1" x2="1029.8" y2="1476.1" stroke="#333336" stroke-width="1.7" />
<line x1="864.4" y1="1058.8" x2="864.4" y2="1496.0" stroke="#333336" stroke-width="1.7" />
<line x1="896.3" y1="1058.8" x2="896.3" y2="1496.0" stroke="#333336" stroke-width="1.7" />
<line x1="928.5" y1="1058.8" x2="928.5" y2="1496.0" stroke="#333336" stroke-width="1.7" />
<line x1="961.0" y1="1058.8" x2="961.0" y2="1496.0" stroke="#333336" stroke-width="1.7" />
<line x1="993.2" y1="1058.8" x2="993.2" y2="1496.0" stroke="#333336" stroke-width="1.7" />
<rect x="833.1" y="1058.8" width="196.7" height="437.2" fill="none" stroke="#37373f" stroke-width="1.8" />
<clipPath id="cp833"><rect x="833.1" y="1058.8" width="196.69999999999993" height="437.20000000000005"/></clipPath>
<g clip-path="url(#cp833)">
<path d="M833.1,1413.9 L1029.8,1212.5" fill="none" stroke="#111" stroke-width="1.7"/>
<path d="M833.1,1430.4 L1029.8,1261.0" fill="none" stroke="#111" stroke-width="1.7"/>
<path d="M833.1,1448.1 L1029.8,1300.8" fill="none" stroke="#111" stroke-width="1.7"/>
<path d="M833.1,1455.4 L1029.8,1328.3" fill="none" stroke="#111" stroke-width="1.7"/>
<path d="M833.1,1467.6 L1029.8,1379.7" fill="none" stroke="#111" stroke-width="1.7"/>
<path d="M833.1,1473.4 L1029.8,1401.4" fill="none" stroke="#111" stroke-width="1.7"/>
<path d="M833.1,1483.0 L1029.8,1441.5" fill="none" stroke="#111" stroke-width="1.7"/>
<path d="M833.1,1489.3 L1029.8,1465.3" fill="none" stroke="#111" stroke-width="1.7"/>
<path d="M833.1,1493.1 L1029.8,1475.7" fill="none" stroke="#111" stroke-width="1.7"/>
</g>
<text transform="translate(902.86,1037) scale(1.0391,1)" font-size="20.6" fill="#111" stroke="#111" stroke-width="0.3">Zugkraft</text>
<text transform="translate(798.15,1064.3999999999999) scale(0.8271,1)" font-size="15.6" fill="#2c2c2c" stroke="#2c2c2c" stroke-width="0.45">28.0</text>
<text transform="translate(798.15,1090.3999999999999) scale(0.8271,1)" font-size="15.6" fill="#2c2c2c" stroke="#2c2c2c" stroke-width="0.45">26.0</text>
<text transform="translate(798.15,1113.3999999999999) scale(0.8271,1)" font-size="15.6" fill="#2c2c2c" stroke="#2c2c2c" stroke-width="0.45">24.0</text>
<text transform="translate(798.15,1136.3999999999999) scale(0.8271,1)" font-size="15.6" fill="#2c2c2c" stroke="#2c2c2c" stroke-width="0.45">22.0</text>
<text transform="translate(798.15,1159.5) scale(0.8271,1)" font-size="15.6" fill="#2c2c2c" stroke="#2c2c2c" stroke-width="0.45">20.0</text>
<text transform="translate(797.82,1182.5) scale(0.8384,1)" font-size="15.6" fill="#2c2c2c" stroke="#2c2c2c" stroke-width="0.45">18.0</text>
<text transform="translate(797.82,1205.5) scale(0.8384,1)" font-size="15.6" fill="#2c2c2c" stroke="#2c2c2c" stroke-width="0.45">16.0</text>
<text transform="translate(797.82,1228.5) scale(0.8384,1)" font-size="15.6" fill="#2c2c2c" stroke="#2c2c2c" stroke-width="0.45">14.0</text>
<text transform="translate(797.82,1251.5) scale(0.8384,1)" font-size="15.6" fill="#2c2c2c" stroke="#2c2c2c" stroke-width="0.45">12.0</text>
<text transform="translate(797.82,1274.6) scale(0.8384,1)" font-size="15.6" fill="#2c2c2c" stroke="#2c2c2c" stroke-width="0.45">10.0</text>
<text transform="translate(804.70,1297.6) scale(0.8563,1)" font-size="15.6" fill="#2c2c2c" stroke="#2c2c2c" stroke-width="0.45">9.0</text>
<text transform="translate(804.70,1320.6) scale(0.8563,1)" font-size="15.6" fill="#2c2c2c" stroke="#2c2c2c" stroke-width="0.45">8.0</text>
<text transform="translate(804.63,1343.6) scale(0.8596,1)" font-size="15.6" fill="#2c2c2c" stroke="#2c2c2c" stroke-width="0.45">7.0</text>
<text transform="translate(804.63,1366.6) scale(0.8596,1)" font-size="15.6" fill="#2c2c2c" stroke="#2c2c2c" stroke-width="0.45">6.0</text>
<text transform="translate(804.77,1389.6999999999998) scale(0.8531,1)" font-size="15.6" fill="#2c2c2c" stroke="#2c2c2c" stroke-width="0.45">5.0</text>
<text transform="translate(805.04,1412.6999999999998) scale(0.8403,1)" font-size="15.6" fill="#2c2c2c" stroke="#2c2c2c" stroke-width="0.45">4.0</text>
<text transform="translate(804.77,1435.6999999999998) scale(0.8531,1)" font-size="15.6" fill="#2c2c2c" stroke="#2c2c2c" stroke-width="0.45">3.0</text>
<text transform="translate(804.63,1458.6999999999998) scale(0.8596,1)" font-size="15.6" fill="#2c2c2c" stroke="#2c2c2c" stroke-width="0.45">2.0</text>
<text transform="translate(804.27,1481.6999999999998) scale(0.8764,1)" font-size="15.6" fill="#2c2c2c" stroke="#2c2c2c" stroke-width="0.45">1.0</text>
<text transform="translate(804.67,1502.8) scale(0.8547,1)" font-size="15.6" fill="#2c2c2c" stroke="#2c2c2c" stroke-width="0.45">0</text>
<text transform="translate(824.45,1520) scale(0.8200,1)" font-size="15.2" fill="#2c2c2c" stroke="#2c2c2c" stroke-width="0.45">50</text>
<text transform="translate(855.12,1520) scale(0.8200,1)" font-size="15.2" fill="#2c2c2c" stroke="#2c2c2c" stroke-width="0.45">75</text>
<text transform="translate(883.67,1520) scale(0.8200,1)" font-size="15.2" fill="#2c2c2c" stroke="#2c2c2c" stroke-width="0.45">100</text>
<text transform="translate(916.21,1520) scale(0.8200,1)" font-size="15.2" fill="#2c2c2c" stroke="#2c2c2c" stroke-width="0.45">125</text>
<text transform="translate(948.97,1520) scale(0.8200,1)" font-size="15.2" fill="#2c2c2c" stroke="#2c2c2c" stroke-width="0.45">150</text>
<text transform="translate(981.51,1520) scale(0.8200,1)" font-size="15.2" fill="#2c2c2c" stroke="#2c2c2c" stroke-width="0.45">175</text>
<text transform="translate(1015.53,1520) scale(0.8200,1)" font-size="15.2" fill="#2c2c2c" stroke="#2c2c2c" stroke-width="0.45">200</text>
<text transform="translate(998.82,1539.4) scale(0.8913,1)" font-size="15.2" fill="#2c2c2c" stroke="#2c2c2c" stroke-width="0.45">P(bar)</text>
<text transform="translate(1043.73,1043.4) scale(1.0953,1)" font-size="12.2" fill="#2c2c2c" stroke="#333" stroke-width="0.3">ØA/B</text>
<text transform="translate(1051.56,1053.5) scale(0.9881,1)" font-size="11.5" fill="#2c2c2c" stroke="#333" stroke-width="0.3">mm</text>
<text transform="translate(1037.75,1216.2) scale(0.8802,1)" font-size="11.4" fill="#2a2a2a" stroke="#2a2a2a" stroke-width="0.4">120/70</text>
<text transform="translate(1037.75,1263.0) scale(0.8802,1)" font-size="11.4" fill="#2a2a2a" stroke="#2a2a2a" stroke-width="0.4">100/50</text>
<text transform="translate(1038.06,1303.9) scale(0.8627,1)" font-size="11.4" fill="#2a2a2a" stroke="#2a2a2a" stroke-width="0.4">90/50</text>
<text transform="translate(1038.06,1332.0) scale(0.8627,1)" font-size="11.4" fill="#2a2a2a" stroke="#2a2a2a" stroke-width="0.4">80/40</text>
<text transform="translate(1038.01,1381.3) scale(0.8645,1)" font-size="11.4" fill="#2a2a2a" stroke="#2a2a2a" stroke-width="0.4">70/40</text>
<text transform="translate(1038.01,1404.6000000000001) scale(0.8645,1)" font-size="11.4" fill="#2a2a2a" stroke="#2a2a2a" stroke-width="0.4">60/30</text>
<text transform="translate(1038.11,1444.6000000000001) scale(0.8609,1)" font-size="11.4" fill="#2a2a2a" stroke="#2a2a2a" stroke-width="0.4">50/30</text>
<text transform="translate(1038.30,1469.0) scale(0.8556,1)" font-size="11.4" fill="#2a2a2a" stroke="#2a2a2a" stroke-width="0.4">40/25</text>
<text transform="translate(1038.11,1479.4) scale(0.8609,1)" font-size="11.4" fill="#2a2a2a" stroke="#2a2a2a" stroke-width="0.4">32/20</text>
<text transform="translate(777.85,1223) scale(1.0000,1)" font-size="19.5" fill="#111" stroke="#111" stroke-width="0.3">T</text>
<text transform="translate(778.39,1249.2) scale(1.0000,1)" font-size="19.5" fill="#111" stroke="#111" stroke-width="0.3">o</text>
<text transform="translate(778.39,1274.8) scale(1.0000,1)" font-size="19.5" fill="#111" stroke="#111" stroke-width="0.3">n</text>
<text transform="translate(778.39,1300.4) scale(1.0000,1)" font-size="19.5" fill="#111" stroke="#111" stroke-width="0.3">n</text>
<text transform="translate(778.44,1326.1) scale(1.0000,1)" font-size="19.5" fill="#111" stroke="#111" stroke-width="0.3">e</text>
<text transform="translate(778.39,1351.6) scale(1.0000,1)" font-size="19.5" fill="#111" stroke="#111" stroke-width="0.3">n</text>
</g>
</svg>
</body></html>
